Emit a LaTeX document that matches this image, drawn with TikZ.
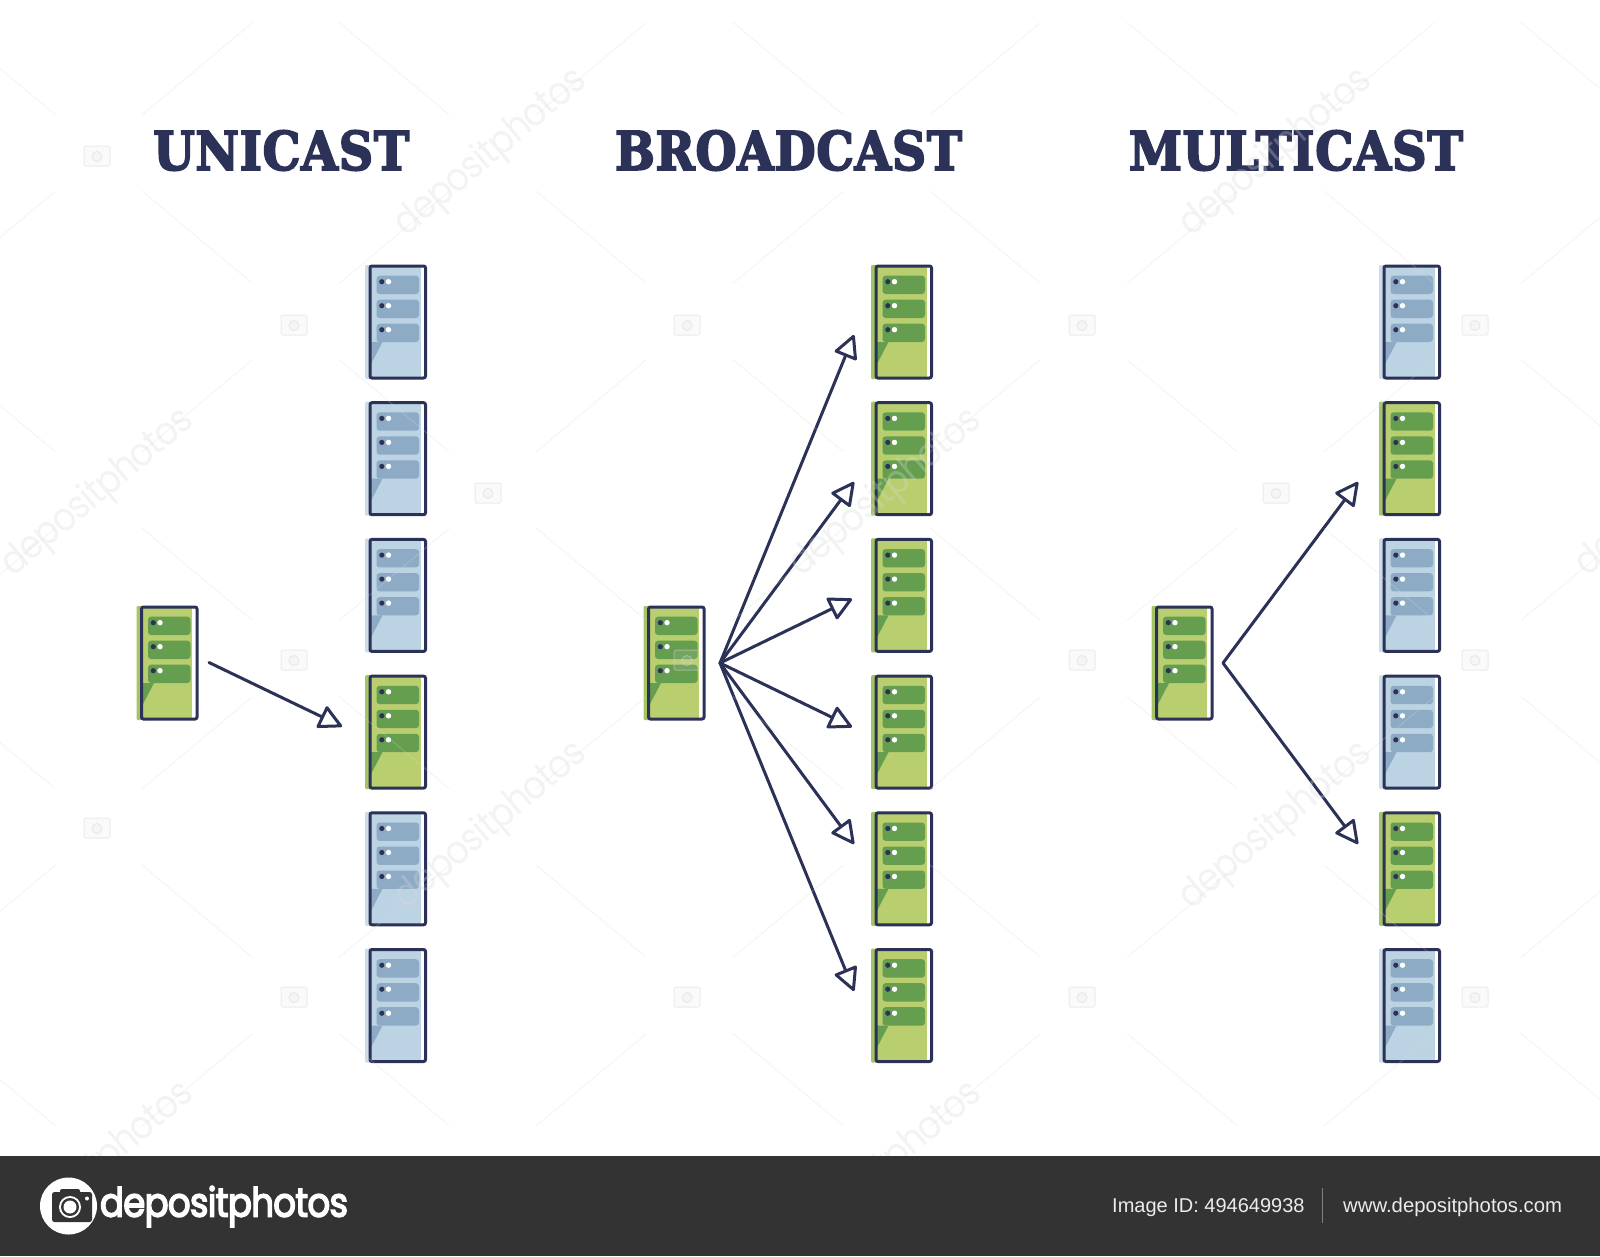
\documentclass[tikz,border=0pt]{standalone}
\usepackage{fontspec}
\usepackage{graphicx}
\usetikzlibrary{arrows.meta}
\setmainfont{Liberation Sans}
\newfontfamily\titlefont[BoldFeatures={FakeBold=3.5,LetterSpace=1.5}]{DejaVu Serif}
\newfontfamily\logofont[LetterSpace=-2,FakeBold=4]{Poppins}
\newfontfamily\wmfont[LetterSpace=-3]{Poppins}
\definecolor{ink}{HTML}{2B3157}
\definecolor{gbase}{HTML}{B9CF6F}
\definecolor{gslot}{HTML}{659E4F}
\definecolor{gstrip}{HTML}{A5C465}
\definecolor{bbase}{HTML}{BCD3E4}
\definecolor{bslot}{HTML}{8EABC6}
\definecolor{bstrip}{HTML}{CBDDEA}
\definecolor{band}{HTML}{333333}
\definecolor{wm}{HTML}{D8D8D8}
\tikzset{
  frame/.style={draw=ink,line width=3pt,rounded corners=2pt,minimum width=55.5pt,minimum height=112pt,inner sep=0pt,outer sep=0pt},
  conn/.style={draw=ink,line width=3pt,line cap=round,-{Triangle[open,length=25pt,width=25pt,round]}},
  title/.style={text=ink,inner sep=0pt},
  foot/.style={text=white!92!black,font=\fontsize{20}{24}\selectfont,anchor=base west,inner sep=0pt},
  wmtext/.style={text=wm,opacity=.3,inner sep=0pt,rotate=40},
  wmcam/.style={draw=wm,fill=wm,fill opacity=.12,draw opacity=.45,line width=1pt},
  wmline/.style={draw=wm,opacity=.25,line width=1pt},
}
\newcommand{\srv}[4]{%
  \begin{scope}[shift={(#2,#3)}]
    \fill[#4strip,rounded corners=1pt] (-4.8,-1) rectangle (6,113);
    \fill[#4base] (0,0) rectangle (50.5,112);
    \fill[#4slot] (0,76) -- (12.5,76) -- (1,98) -- (0,98) -- cycle;
    \foreach \o in {0,24}{
      \fill[#4slot,rounded corners=3pt] (6.5,9.7+\o) rectangle (49,28+\o);
      \fill[ink] (11.8,15.7+\o) circle (2.6);
      \fill[white] (18.5,15.7+\o) circle (2.7);
    }
    \fill[#4slot,rounded corners=3pt] (6.5,57.7) rectangle (49,76);
    \fill[ink] (11.8,63.7) circle (2.6);
    \fill[white] (18.5,63.7) circle (2.7);
    \node[frame] (#1) at (27.75,56) {};
  \end{scope}}
\newcommand{\wmark}[2]{\node[wmtext] at (#1,#2) {\resizebox*{238pt}{40pt}{\wmfont depositphotos}};}
\newcommand{\wcam}[2]{%
  \begin{scope}[shift={(#1,#2)}]
    \draw[wmcam,rounded corners=1.5pt] (-13,-10) rectangle (13,10);
    \draw[wmcam] (0,0.5) circle (5);
  \end{scope}}
\begin{document}
\begin{tikzpicture}[x=1pt,y=-1pt]
\fill[white] (0,0) rectangle (1600,1256);
\useasboundingbox (0,0) rectangle (1600,1256);
% titles
\node[title] (t1) at (281.3,150.5) {\resizebox{256pt}{39.5pt}{\titlefont\bfseries UNICAST}};
\node[title] (t2) at (788.5,150.5) {\resizebox{347pt}{39.5pt}{\titlefont\bfseries BROADCAST}};
\node[title] (t3) at (1296,150.5) {\resizebox{334pt}{39.5pt}{\titlefont\bfseries MULTICAST}};
% sources
\srv{us}{141.5}{607}{g}
\srv{bs}{648.5}{607}{g}
\srv{ms}{1156.5}{607}{g}
% unicast
\srv{ua}{370}{266}{b}
\srv{ub}{370}{402.7}{b}
\srv{uc}{370}{539.4}{b}
\srv{ud}{370}{676.1}{g}
\srv{ue}{370}{812.8}{b}
\srv{uf}{370}{949.5}{b}
% broadcast
\srv{ba}{876}{266}{g}
\srv{bb}{876}{402.7}{g}
\srv{bc}{876}{539.4}{g}
\srv{bd}{876}{676.1}{g}
\srv{be}{876}{812.8}{g}
\srv{bf}{876}{949.5}{g}
% multicast
\srv{ma}{1384}{266}{b}
\srv{mb}{1384}{402.7}{g}
\srv{mc}{1384}{539.4}{b}
\srv{md}{1384}{676.1}{b}
\srv{me}{1384}{812.8}{g}
\srv{mf}{1384}{949.5}{b}
% connector ends
\coordinate (ufrom) at (209,662.5);
\coordinate (uto) at (342,726.5);
\coordinate (bhub) at (720,663);
\coordinate (bt1) at (854,335);
\coordinate (bt2) at (854,482);
\coordinate (bt3) at (852,599);
\coordinate (bt4) at (852,727);
\coordinate (bt5) at (854,844);
\coordinate (bt6) at (854,991);
\coordinate (mhub) at (1223,663);
\coordinate (mt1) at (1358,482);
\coordinate (mt2) at (1358,844);
\draw[conn] (ufrom) -- (uto);
\foreach \t in {bt1,bt2,bt3,bt4,bt5,bt6}{\draw[conn] (bhub) -- (\t);}
\foreach \t in {mt1,mt2}{\draw[conn] (mhub) -- (\t);}
% watermark
\begin{scope}
\clip (0,0) rectangle (1600,1156);
\foreach \i in {-1,...,8}{\foreach \j in {-1,...,6}{
  \pgfmathsetmacro\px{97+197*\i}
  \pgfmathsetmacro\py{153+168.5*\j}
  \pgfmathtruncatemacro\parity{mod(\i+\j+20,2)}
  \ifnum\parity=0
    \draw[wmline] (\px+45,\py+38) -- (\px+155,\py+130);
    \draw[wmline] (\px+45,\py-38) -- (\px+155,\py-130);
  \fi
}}
\wmark{491}{153}\wmark{1276}{153}
\wmark{98}{493}\wmark{886}{493}\wmark{1672}{493}
\wmark{491}{826}\wmark{1276}{826}
\wmark{98}{1166}\wmark{886}{1166}
\foreach \x/\y in {97/156,294/325,687/325,1082/325,1475/325,488/493,1276/493,294/660,687/660,1082/660,1475/660,97/828,294/997,687/997,1082/997,1475/997}{\wcam{\x}{\y}}
\end{scope}
% footer
\fill[band] (0,1156) rectangle (1600,1256);
\node[circle,fill=white,minimum size=57pt,inner sep=0pt] (lg) at (68.5,1206) {};
\fill[band,rounded corners=2.5pt] (52,1192) rectangle (92,1222);
\fill[band,rounded corners=2pt] (60,1189) rectangle (80,1195);
\fill[white] (70,1207) circle (11);
\fill[band] (70,1207) circle (9);
\fill[white] (70,1207) circle (6.5);
\fill[white] (87,1198.5) circle (2);
\node[inner sep=0pt,text=white] (lt) at (224,1206.5) {\resizebox*{248pt}{41pt}{\logofont depositphotos}};
\node[foot] (idt) at (1112,1212) {Image ID: 494649938};
\node[foot,font=\fontsize{20.3}{24}\selectfont] (url) at (1343,1212) {www.depositphotos.com};
\draw[gray,line width=.8pt] (1322,1188) -- (1322,1223);
\end{tikzpicture}
\end{document}
